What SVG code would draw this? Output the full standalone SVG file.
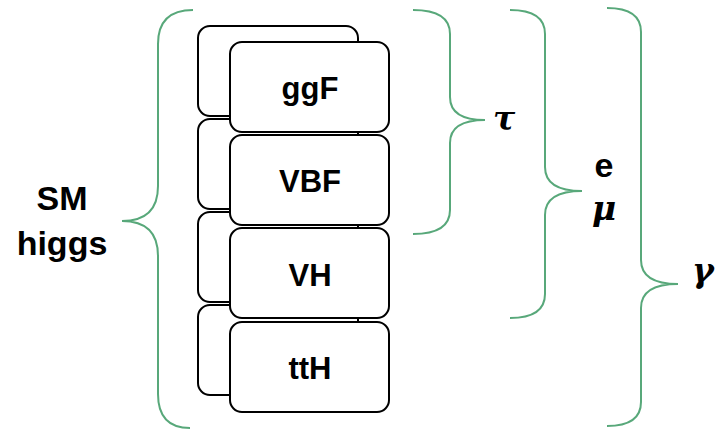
<svg xmlns="http://www.w3.org/2000/svg" width="715" height="429" viewBox="0 0 715 429">
<style>
.box{fill:#fff;stroke:#000;stroke-width:2}
.lbl{font-family:"Liberation Sans",Arial,sans-serif;font-weight:bold;font-size:31px;fill:#000;text-anchor:middle}
.big{font-size:34px}
.gr{font-family:"DejaVu Serif","Liberation Serif",serif;font-weight:bold;font-style:italic;font-size:33px;fill:#000;text-anchor:middle}
.br{fill:none;stroke:#58a87a;stroke-width:2}
</style>
<rect width="715" height="429" fill="#fff"/>
<g id="stack-back">
<rect class="box" x="198" y="26" width="160" height="90" rx="12"/>
<rect class="box" x="198" y="119" width="160" height="90" rx="12"/>
<rect class="box" x="198" y="212" width="160" height="90" rx="12"/>
<rect class="box" x="198" y="305" width="160" height="90" rx="12"/>
</g>
<g id="ggF"><rect class="box" x="230" y="42" width="159" height="90" rx="12"/><text class="lbl" x="310" y="99">ggF</text></g>
<g id="VBF"><rect class="box" x="230" y="135" width="159" height="90" rx="12"/><text class="lbl" x="310" y="192">VBF</text></g>
<g id="VH"><rect class="box" x="230" y="228" width="159" height="90" rx="12"/><text class="lbl" x="310" y="286">VH</text></g>
<g id="ttH"><rect class="box" x="230" y="322" width="159" height="90" rx="12"/><text class="lbl" x="310" y="379">ttH</text></g>
<g id="braces">
<path class="br" d="M193,10 Q158,10 158,44 L158,186 Q158,221 122,221 Q158,221 158,256 L158,394 Q158,428 190,428"/>
<path class="br" d="M413,10 Q450,10 450,34 L450,97 Q450,120 485,120 Q450,120 450,143 L450,210 Q450,234 413,234"/>
<path class="br" d="M510,10 Q545,10 545,34 L545,167 Q545,191 582,191 Q545,191 545,215 L545,294 Q545,318 510,318"/>
<path class="br" d="M607,8 Q641,8 641,32 L641,260 Q641,284 678,284 Q641,284 641,308 L641,402 Q641,426 607,426"/>
</g>
<g id="SM-higgs"><text class="lbl big" x="62" y="210">SM</text><text class="lbl big" x="62" y="255">higgs</text></g>
<g id="tau"><text class="gr" x="504" y="130">τ</text></g>
<g id="e-mu"><text class="lbl big" x="604" y="177">e</text><text class="gr" x="604" y="220">μ</text></g>
<g id="gamma"><text class="gr" x="703" y="282">γ</text></g>
</svg>
